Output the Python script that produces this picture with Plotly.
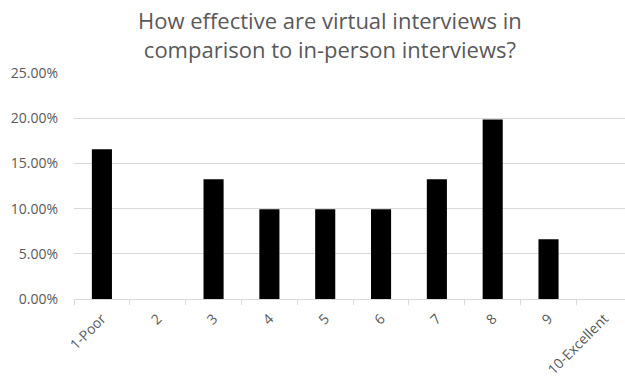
import plotly.graph_objects as go

# Survey ratings and share of responses
categories = ["1-Poor", "2", "3", "4", "5", "6", "7", "8", "9", "10-Excellent"]
shares = [0.1656, 0.0, 0.1325, 0.0993, 0.0993, 0.0993, 0.1325, 0.1987, 0.0662, 0.0]
y_ticks = [0, 0.05, 0.10, 0.15, 0.20, 0.25]

title_text = "How effective are virtual interviews in<br>comparison to in-person interviews?"
grey = "#595959"

fig = go.Figure(
    go.Bar(
        x=categories,
        y=shares,
        marker=dict(color="black", line=dict(width=0)),
        width=0.36,
    )
)

fig.update_layout(
    width=625,
    height=381,
    paper_bgcolor="white",
    plot_bgcolor="white",
    margin=dict(l=74, r=0, t=73, b=82),
    showlegend=False,
    font=dict(family="Open Sans", color=grey, size=12),
)

# Two-line chart title placed in the top margin
fig.add_annotation(
    text=title_text,
    xref="paper",
    yref="paper",
    x=0.465,
    y=1.31,
    xanchor="center",
    yanchor="top",
    showarrow=False,
    align="center",
    font=dict(family="Open Sans", size=22, color=grey),
)

fig.update_xaxes(
    type="category",
    range=[-0.5, 9.37],
    tickangle=-45,
    showline=True,
    linecolor="#d9d9d9",
    linewidth=1,
    ticks="outside",
    tickson="boundaries",
    ticklen=5,
    tickcolor="#d9d9d9",
    showgrid=False,
    ticklabelstandoff=5,
    tickfont=dict(size=14, color=grey),
)

fig.update_yaxes(
    range=[0, 0.25],
    tickvals=y_ticks,
    tickformat=".2%",
    showgrid=True,
    gridcolor="#d9d9d9",
    gridwidth=1,
    zeroline=False,
    showline=False,
    ticks="",
    ticklabelstandoff=15,
    tickfont=dict(size=14, color=grey),
)

fig.write_html("out.html")
